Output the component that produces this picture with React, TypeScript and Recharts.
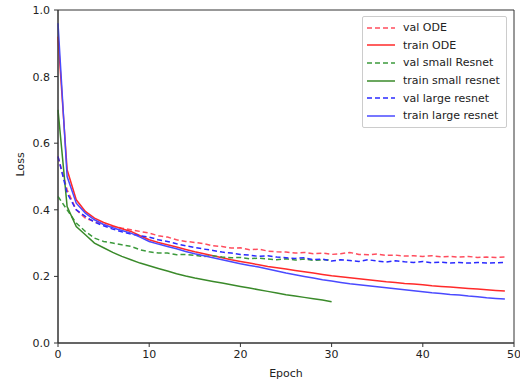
import React from 'react';
import {
  LineChart,
  Line,
  XAxis,
  YAxis,
  ReferenceArea,
} from 'recharts';

// epochs 0..49 for ODE / large resnet, 0..30 for small resnet
const valODE = [
  0.56, 0.46, 0.4, 0.375, 0.365, 0.355, 0.35, 0.345, 0.34, 0.335,
  0.33, 0.322, 0.318, 0.31, 0.305, 0.302, 0.298, 0.292, 0.29, 0.285,
  0.286, 0.28, 0.282, 0.276, 0.274, 0.273, 0.27, 0.272, 0.268, 0.27,
  0.266, 0.268, 0.272, 0.266, 0.265, 0.267, 0.263, 0.264, 0.261, 0.262,
  0.26, 0.262, 0.259, 0.26, 0.258, 0.26, 0.257, 0.258, 0.257, 0.258,
];
const trainODE = [
  0.92, 0.52, 0.43, 0.395, 0.375, 0.362, 0.352, 0.343, 0.335, 0.322,
  0.31, 0.302, 0.295, 0.288, 0.281, 0.274, 0.268, 0.262, 0.256, 0.25,
  0.245, 0.24, 0.235, 0.23, 0.226, 0.222, 0.218, 0.214, 0.21, 0.206,
  0.202, 0.199, 0.196, 0.193, 0.19, 0.187, 0.184, 0.182, 0.179, 0.177,
  0.175, 0.172, 0.17, 0.168, 0.166, 0.164, 0.162, 0.16, 0.158, 0.156,
];
const valSmall = [
  0.44, 0.4, 0.36, 0.335, 0.315, 0.305, 0.3, 0.295, 0.29, 0.28,
  0.274, 0.27, 0.27, 0.265, 0.266, 0.263, 0.26, 0.262, 0.258, 0.256,
  0.257, 0.253, 0.255, 0.252, 0.25, 0.253, 0.249, 0.252, 0.248, 0.25,
  0.249,
];
const trainSmall = [
  0.7, 0.41, 0.35, 0.325, 0.3, 0.286, 0.272, 0.26, 0.25, 0.24,
  0.232, 0.224, 0.216, 0.208, 0.201, 0.195, 0.19, 0.185, 0.18, 0.175,
  0.17, 0.165, 0.16, 0.155, 0.15, 0.145, 0.141, 0.137, 0.133, 0.129,
  0.124,
];
const valLarge = [
  0.56, 0.45, 0.4, 0.38, 0.363, 0.352, 0.342, 0.334, 0.327, 0.322,
  0.318, 0.31, 0.305, 0.298, 0.292, 0.287, 0.282, 0.278, 0.273, 0.27,
  0.266, 0.264, 0.26, 0.262, 0.258, 0.256, 0.254, 0.256, 0.25, 0.252,
  0.246, 0.25, 0.248, 0.245, 0.25, 0.246, 0.243, 0.247, 0.244, 0.242,
  0.245, 0.241, 0.243, 0.24, 0.242, 0.24, 0.242, 0.24, 0.241, 0.242,
];
const trainLarge = [
  0.96, 0.5, 0.42, 0.39, 0.37, 0.356, 0.346, 0.338, 0.33, 0.318,
  0.305, 0.297, 0.29, 0.283, 0.275, 0.268, 0.262, 0.256, 0.25, 0.244,
  0.238, 0.233, 0.228, 0.222, 0.216, 0.21, 0.205, 0.2, 0.195, 0.19,
  0.186, 0.182, 0.178, 0.175, 0.172, 0.169, 0.166, 0.163, 0.16, 0.157,
  0.154, 0.151, 0.149, 0.146, 0.144, 0.141, 0.139, 0.136, 0.134, 0.132,
];

const xTicks = [0, 10, 20, 30, 40, 50];
const yTicks = [0, 0.2, 0.4, 0.6, 0.8, 1.0];

const series = [
  { key: 'valODE', name: 'val ODE', color: '#ff4d5e', dash: '5 3', values: valODE },
  { key: 'trainODE', name: 'train ODE', color: '#ff2a2a', dash: undefined, values: trainODE },
  { key: 'valSmall', name: 'val small Resnet', color: '#3c9a3c', dash: '5 3', values: valSmall },
  { key: 'trainSmall', name: 'train small resnet', color: '#3a8a2a', dash: undefined, values: trainSmall },
  { key: 'valLarge', name: 'val large resnet', color: '#2a2aff', dash: '5 3', values: valLarge },
  { key: 'trainLarge', name: 'train large resnet', color: '#4a4aff', dash: undefined, values: trainLarge },
];

const data = valODE.map((_, i) => {
  const row: Record<string, number> = { epoch: i };
  series.forEach((s) => {
    if (i < s.values.length) row[s.key] = s.values[i];
  });
  return row;
});

const font = 'DejaVu Sans, sans-serif';
const axisColor = '#333';

// legend drawn on top so it doesn't eat into the plot height
const ChartLegend = () => (
  <div
    style={{
      position: 'absolute',
      left: 362,
      top: 16,
      border: '1px solid #ccc',
      borderRadius: 2,
      background: '#fff',
      padding: '2px 6px 2px 3px',
      fontFamily: font,
      fontSize: 11,
      color: '#222',
    }}
  >
    {series.map((s) => (
      <div key={s.key} style={{ display: 'flex', alignItems: 'center', height: 17.6 }}>
        <svg width={30} height={10} style={{ marginRight: 7 }}>
          <line x1={1} y1={5} x2={29} y2={5} stroke={s.color} strokeWidth={1.5} strokeDasharray={s.dash} />
        </svg>
        <span>{s.name}</span>
      </div>
    ))}
  </div>
);

export default function App() {
  return (
    <div style={{ position: 'relative', width: 520, height: 383, background: '#fff' }}>
      <style>{'body{margin:0}'}</style>
      <LineChart width={520} height={383} data={data} margin={{ top: 10, right: 6, left: 0, bottom: 0 }}>
        <XAxis
          dataKey="epoch"
          type="number"
          domain={[0, 50]}
          ticks={xTicks}
          stroke={axisColor}
          tickSize={4}
          tickMargin={3}
          height={40}
          tick={{ fontFamily: font, fontSize: 11, fill: '#222' }}
          label={{ value: 'Epoch', position: 'insideBottom', offset: 6, fontFamily: font, fontSize: 11, fill: '#222' }}
        />
        <YAxis
          type="number"
          domain={[0, 1]}
          ticks={yTicks}
          stroke={axisColor}
          tickSize={4}
          tickMargin={4}
          width={58}
          tickFormatter={(v: number) => v.toFixed(1)}
          tick={{ fontFamily: font, fontSize: 11, fill: '#222' }}
          label={{ value: 'Loss', angle: -90, position: 'insideLeft', offset: 20, fontFamily: font, fontSize: 11, fill: '#222' }}
        />
        <ReferenceArea x1={0} x2={50} y1={0} y2={1} fill="none" stroke={axisColor} strokeOpacity={1} ifOverflow="visible" />
        {series.map((s) => (
          <Line
            key={s.key}
            dataKey={s.key}
            name={s.name}
            stroke={s.color}
            strokeWidth={1.5}
            strokeDasharray={s.dash}
            dot={false}
            type="linear"
            isAnimationActive={false}
          />
        ))}
      </LineChart>
      <ChartLegend />
    </div>
  );
}
